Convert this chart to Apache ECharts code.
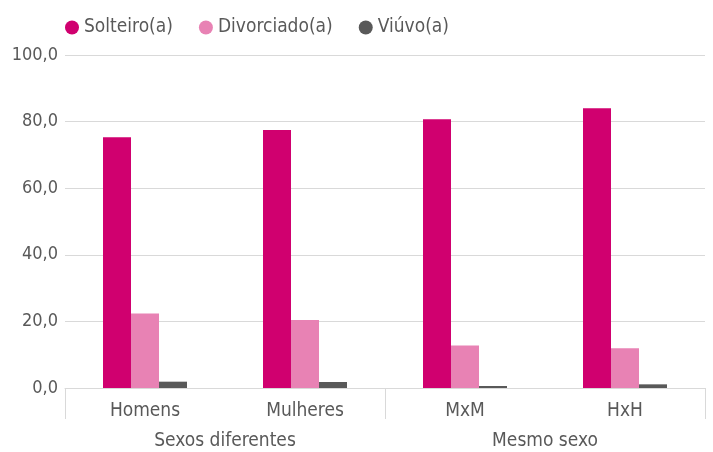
<!DOCTYPE html>
<html>
<head>
<meta charset="utf-8">
<script src="https://cdn.jsdelivr.net/npm/echarts@6/dist/echarts.min.js"></script>
<style>html,body{margin:0;padding:0;background:#fff}#c{width:713px;height:452px}</style>
</head>
<body>
<div id="c"></div>
<script>
const categories = ['Homens', 'Mulheres', 'MxM', 'HxH'];
const groups = ['Sexos diferentes', 'Mesmo sexo'];
const seriesNames = ['Solteiro(a)', 'Divorciado(a)', 'Viúvo(a)'];
const solteiro = [75.3, 77.5, 80.7, 84.0];
const divorciado = [22.4, 20.4, 12.8, 11.9];
const viuvo = [1.9, 1.8, 0.6, 1.1];
const colors = ['#d0006f', '#e882b4', '#595959'];

const FONT = '"DejaVu Sans Condensed", "Liberation Sans Narrow", sans-serif';
const TXT = '#595959';
const chart = echarts.init(document.getElementById('c'));
const values = [solteiro, divorciado, viuvo];
chart.setOption({
  animation: false,
  textStyle: { fontFamily: FONT },
  legend: {
    left: 60, top: 13,
    icon: 'circle', itemWidth: 14, itemHeight: 14, itemGap: 26,
    textStyle: { color: TXT, fontSize: 19, fontFamily: FONT },
    data: seriesNames
  },
  grid: { left: 65, right: 8, top: 55, bottom: 64, containLabel: false },
  xAxis: [
    {
      type: 'category', data: categories, position: 'bottom',
      axisLine: { lineStyle: { color: '#d9d9d9' } },
      axisTick: { show: false },
      axisLabel: { color: TXT, fontSize: 19, fontFamily: FONT, margin: 14 }
    },
    {
      type: 'category', data: groups, position: 'bottom', offset: 0,
      axisLine: { show: false },
      axisTick: { show: true, length: 31, lineStyle: { color: '#d9d9d9' } },
      axisLabel: { color: TXT, fontSize: 19, fontFamily: FONT, margin: 44 }
    }
  ],
  yAxis: {
    type: 'value', min: 0, max: 100, interval: 20,
    axisLine: { show: false }, axisTick: { show: false },
    splitLine: { lineStyle: { color: '#d9d9d9' } },
    axisLabel: { color: TXT, fontSize: 18, fontFamily: FONT, margin: 7,
      formatter: v => v.toFixed(1).replace('.', ',') }
  },
  series: seriesNames.map((n, i) => ({
    name: n, type: 'bar', xAxisIndex: 0, data: values[i],
    barWidth: 28, barGap: '0%',
    itemStyle: { color: colors[i] }
  }))
});
</script>
</body>
</html>
